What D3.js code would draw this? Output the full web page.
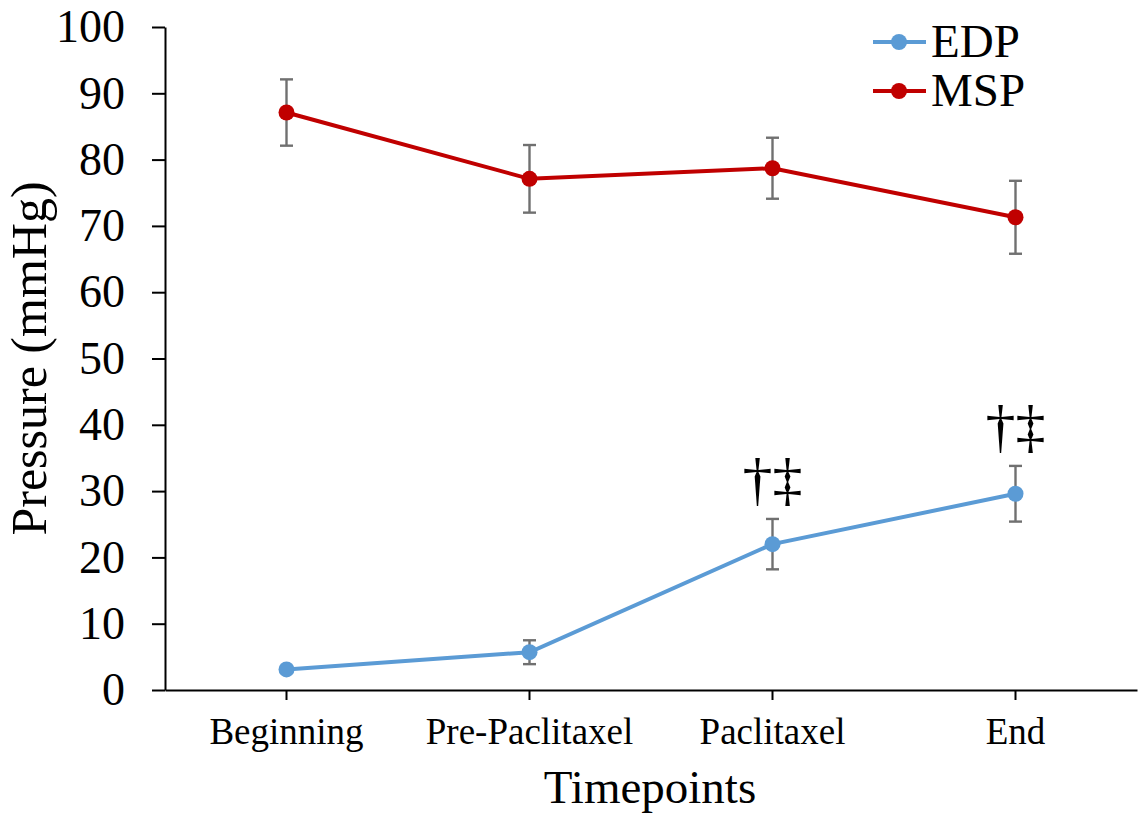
<!DOCTYPE html>
<html>
<head>
<meta charset="utf-8">
<script src="https://cdn.jsdelivr.net/npm/d3@7"></script>
<style>
  body { margin: 0; background: #fff; }
  text { font-family: "Liberation Serif", "Times New Roman", serif; fill: #000; }
</style>
</head>
<body>
<svg id="chart" width="1138" height="816"></svg>
<script>
var categories = ["Beginning", "Pre-Paclitaxel", "Paclitaxel", "End"];
var edp = [3.1, 5.7, 22.0, 29.6];
var edpErr = [0.5, 1.8, 3.8, 4.2];
var msp = [87.1, 77.1, 78.7, 71.3];
var mspErr = [5.0, 5.1, 4.6, 5.5];
var sigMarks = ["", "", "†‡", "†‡"];
var yTicks = [0, 10, 20, 30, 40, 50, 60, 70, 80, 90, 100];

var svg = d3.select('#chart');
var plotLeft = 165, plotRight = 1137, plotTop = 27, plotBottom = 690;

var x = d3.scaleBand().domain(categories).range([plotLeft, plotRight]);
var y = d3.scaleLinear().domain([0, 100]).range([plotBottom, plotTop]);
var cx = function(c) { return x(c) + x.bandwidth() / 2; };

// y axis
var yAxis = svg.append('g')
	.attr('transform', `translate(${plotLeft},0)`)
	.call(d3.axisLeft(y).tickValues(yTicks).tickSize(13).tickSizeOuter(0).tickPadding(27));
yAxis.select('.domain').attr('stroke', '#000').attr('stroke-width', 2);
yAxis.selectAll('.tick line').attr('stroke', '#000').attr('stroke-width', 2);
yAxis.selectAll('.tick text')
	.style('font-family', '"Liberation Serif", serif')
	.style('font-size', '46px').attr('fill', '#000');

// x axis
var xAxis = svg.append('g')
	.attr('transform', `translate(0,${plotBottom})`)
	.call(d3.axisBottom(x).tickSize(10).tickSizeOuter(0).tickPadding(18));
xAxis.select('.domain').attr('stroke', '#000').attr('stroke-width', 2);
xAxis.selectAll('.tick line').attr('stroke', '#000').attr('stroke-width', 2);
xAxis.selectAll('.tick text')
	.style('font-family', '"Liberation Serif", serif')
	.style('font-size', '37px').attr('fill', '#000');

// axis titles
svg.append('text')
	.attr('x', (plotLeft + plotRight) / 2 - 1).attr('y', 803)
	.attr('text-anchor', 'middle')
	.style('font-size', '47px')
	.text('Timepoints');
svg.append('text')
	.attr('transform', `translate(46,${(plotTop + plotBottom) / 2}) rotate(-90)`)
	.attr('text-anchor', 'middle')
	.style('font-size', '50px')
	.text('Pressure (mmHg)');

var series = [
	{ name: 'EDP', vals: edp, err: edpErr, color: '#5B9BD5' },
	{ name: 'MSP', vals: msp, err: mspErr, color: '#C00000' }
];

var line = d3.line().x(function(d) { return cx(d.c); }).y(function(d) { return y(d.v); });

series.forEach(function(s) {
	var pts = categories.map(function(c, i) { return { c: c, v: s.vals[i], e: s.err[i] }; });
	var g = svg.append('g');
	// error bars
	var eb = g.selectAll('.eb').data(pts).enter().append('g')
		.attr('stroke', '#707070').attr('stroke-width', 2.4);
	eb.append('line')
		.attr('x1', function(d) { return cx(d.c); }).attr('x2', function(d) { return cx(d.c); })
		.attr('y1', function(d) { return y(d.v + d.e); }).attr('y2', function(d) { return y(d.v - d.e); });
	eb.append('line')
		.attr('x1', function(d) { return cx(d.c) - 6.5; }).attr('x2', function(d) { return cx(d.c) + 6.5; })
		.attr('y1', function(d) { return y(d.v + d.e); }).attr('y2', function(d) { return y(d.v + d.e); });
	eb.append('line')
		.attr('x1', function(d) { return cx(d.c) - 6.5; }).attr('x2', function(d) { return cx(d.c) + 6.5; })
		.attr('y1', function(d) { return y(d.v - d.e); }).attr('y2', function(d) { return y(d.v - d.e); });
	g.append('path')
		.attr('d', line(pts))
		.attr('fill', 'none').attr('stroke', s.color).attr('stroke-width', 4);
	g.selectAll('circle').data(pts).enter().append('circle')
		.attr('cx', function(d) { return cx(d.c); })
		.attr('cy', function(d) { return y(d.v); })
		.attr('r', 8).attr('fill', s.color);
});

// significance marks
svg.selectAll('.sig').data(categories).enter().append('text')
	.attr('x', function(c) { return cx(c); })
	.attr('y', function(c, i) { return y(edp[i] + edpErr[i]) - 20; })
	.attr('text-anchor', 'middle')
	.style('font-size', '60px')
	.text(function(c, i) { return sigMarks[i]; });

// legend
var legend = svg.append('g');
series.forEach(function(s, i) {
	var ly = 42 + i * 49;
	legend.append('line')
		.attr('x1', 873).attr('x2', 926).attr('y1', ly).attr('y2', ly)
		.attr('stroke', s.color).attr('stroke-width', 4);
	legend.append('circle').attr('cx', 899).attr('cy', ly).attr('r', 8).attr('fill', s.color);
	legend.append('text')
		.attr('x', 931).attr('y', ly + 15)
		.style('font-size', '47px')
		.text(s.name);
});
</script>
</body>
</html>
